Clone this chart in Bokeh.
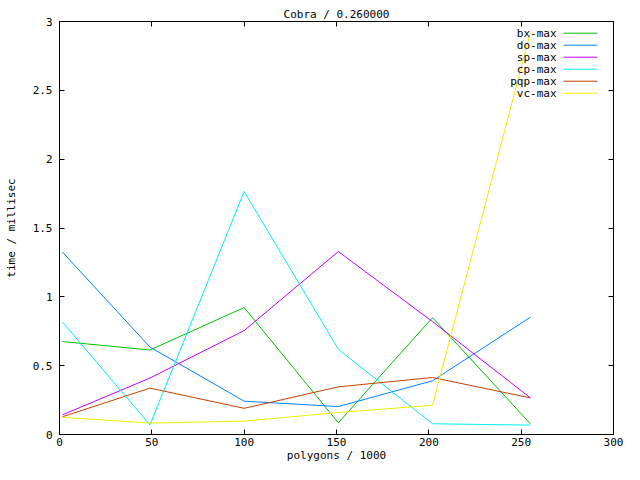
from bokeh.plotting import figure
from bokeh.models import LinearAxis, FixedTicker, Range1d, Label, Arrow
from bokeh.embed import file_html
from bokeh.resources import INLINE

# ---- data ----
x_vals = [1.6, 49, 100, 151, 202, 255]
bx_max = [0.675, 0.614, 0.922, 0.085, 0.849, 0.078]
do_max = [1.325, 0.635, 0.242, 0.203, 0.39, 0.852]
sp_max = [0.143, 0.41, 0.755, 1.329, 0.82, 0.266]
cp_max = [0.817, 0.07, 1.765, 0.619, 0.078, 0.068]
pqp_max = [0.129, 0.337, 0.19, 0.346, 0.414, 0.266]
vc_max = [0.125, 0.083, 0.097, 0.16, 0.212, 2.92]

series_names = ["bx-max", "do-max", "sp-max", "cp-max", "pqp-max", "vc-max"]
series_vals = [bx_max, do_max, sp_max, cp_max, pqp_max, vc_max]
series_colors = ["#00c000", "#0080ff", "#c000ff", "#00eeee", "#c04000", "#eeee00"]

x_ticks = [0, 50, 100, 150, 200, 250, 300]
y_ticks = [0, 0.5, 1, 1.5, 2, 2.5, 3]
y_tick_labels = ["0", "0.5", "1", "1.5", "2", "2.5", "3"]

FONT = "DejaVu Sans Mono"
FS = "11px"

X0, X1 = 0, 300
Y0, Y1 = 0, 3

W, H = 624, 464
BL, BR, BT, BB = 59, 11, 21, 30

p = figure(width=W, height=H, output_backend="svg", toolbar_location=None,
           x_range=Range1d(X0, X1), y_range=Range1d(Y0, Y1),
           min_border_left=BL, min_border_right=BR, min_border_top=BT, min_border_bottom=BB)
p.background_fill_color = "white"
p.border_fill_color = "white"
p.outline_line_color = "black"
p.outline_line_width = 1
p.xgrid.visible = False
p.ygrid.visible = False

p.title.text = "Cobra / 0.260000"
p.title.align = "center"
p.title.text_font = FONT
p.title.text_font_size = FS
p.title.text_font_style = "normal"
p.title.text_color = "black"
p.title.standoff = 1

def style_axis(ax, ticks, show_labels=True):
    ax.ticker = FixedTicker(ticks=ticks)
    ax.major_tick_in = 5
    ax.major_tick_out = 0
    ax.minor_tick_line_color = None
    ax.axis_line_color = "black"
    ax.major_tick_line_color = "black"
    ax.major_label_text_font = FONT
    ax.major_label_text_font_size = FS
    ax.major_label_text_color = "black"
    ax.axis_label_text_font = FONT
    ax.axis_label_text_font_size = FS
    ax.axis_label_text_font_style = "normal"
    ax.axis_label_text_color = "black"
    if not show_labels:
        ax.major_label_overrides = {t: "" for t in ticks}
        ax.major_label_standoff = 0

xa = p.xaxis[0]
style_axis(xa, x_ticks)
xa.major_label_standoff = 3
xa.axis_label = "polygons / 1000"
xa.axis_label_standoff = 0

ya = p.yaxis[0]
style_axis(ya, y_ticks)
ya.axis_label = "time / millisec"
ya.major_label_standoff = 7
ya.axis_label_standoff = 12
ya.major_label_overrides = {t: s for t, s in zip(y_ticks, y_tick_labels)}

top = LinearAxis()
style_axis(top, x_ticks, show_labels=False)
p.add_layout(top, "above")
right = LinearAxis()
style_axis(right, y_ticks, show_labels=False)
p.add_layout(right, "right")

for name, vals, col in zip(series_names, series_vals, series_colors):
    p.line(x_vals, vals, line_color=col, line_width=1)

# legend (gnuplot style: text then sample line), placed by pixel offsets from the frame's top-right
frame_w_px, frame_h_px = float(W - BL - BR), float(H - BT - BB)
ux = (X1 - X0) / frame_w_px
uy = (Y1 - Y0) / frame_h_px
text_right_px = 57
line_start_px, line_end_px = 50, 16
row0_px, row_step_px = 11.7, 12
for i, (name, col) in enumerate(zip(series_names, series_colors)):
    yy = Y1 - (row0_px + i * row_step_px) * uy
    p.add_layout(Label(x=X1 - text_right_px * ux, y=yy, text=name, text_align="right",
                       text_baseline="middle", text_font=FONT, text_font_size=FS,
                       text_color="black"))
    p.add_layout(Arrow(end=None, x_start=X1 - line_start_px * ux, y_start=yy,
                       x_end=X1 - line_end_px * ux, y_end=yy, line_color=col, line_width=1))

open("out.html", "w").write(file_html(p, INLINE))
